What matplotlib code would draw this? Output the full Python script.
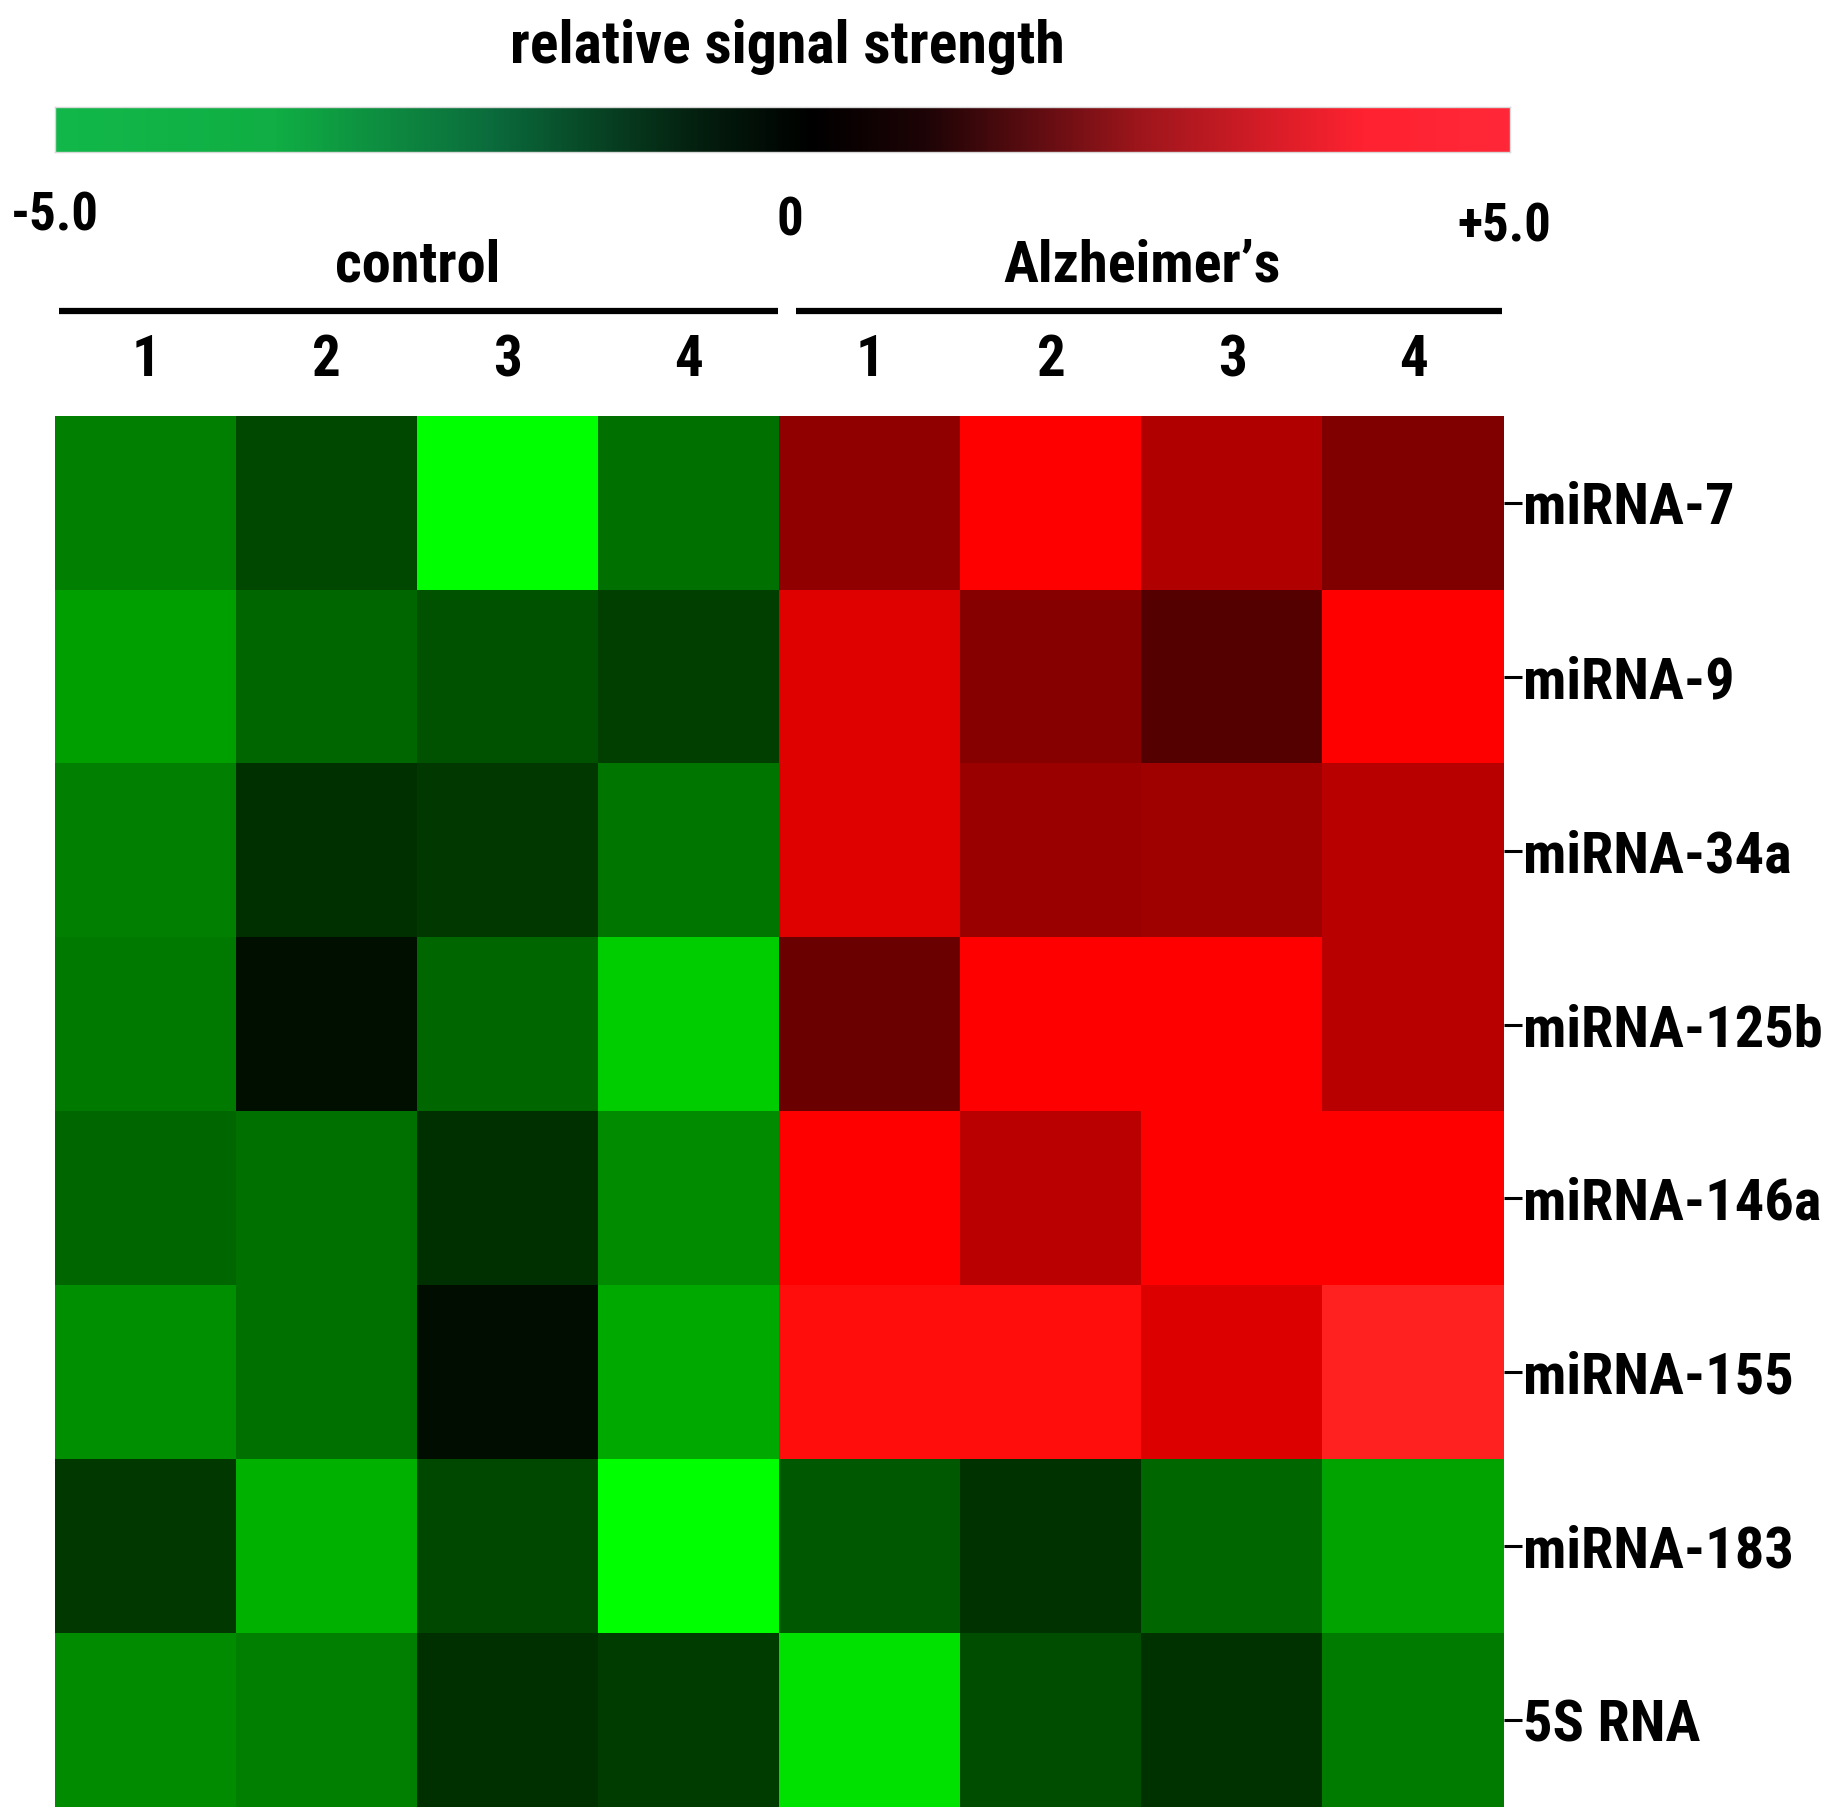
import numpy as np
import matplotlib
matplotlib.use("Agg")
import matplotlib.pyplot as plt
from matplotlib.colors import LinearSegmentedColormap
from matplotlib import transforms

plt.rcParams['font.family'] = ['Roboto Condensed', 'DejaVu Sans']
plt.rcParams['font.weight'] = 'bold'

# datos
mirnas = ['miRNA-7', 'miRNA-9', 'miRNA-34a', 'miRNA-125b',
          'miRNA-146a', 'miRNA-155', 'miRNA-183', '5S RNA']
samples = ['1', '2', '3', '4', '1', '2', '3', '4']
groups = ['control', "Alzheimer\u2019s"]
cbar_labels = ['-5.0', '0', '+5.0']

control = np.array([
    [-2.5, -1.4, -5.0, -2.2],
    [-3.1, -2.0, -1.6, -1.25],
    [-2.5, -0.9, -1.1, -2.3],
    [-2.35, -0.3, -2.0, -4.0],
    [-2.0, -2.2, -0.9, -2.7],
    [-2.8, -2.2, -0.25, -3.3],
    [-1.1, -3.45, -1.4, -5.0],
    [-2.7, -2.5, -0.9, -1.15],
])
alzheimer = np.array([
    [2.7, 4.8, 3.3, 2.4],
    [4.2, 2.5, 1.6, 4.8],
    [4.2, 2.9, 3.0, 3.45],
    [2.0, 4.8, 4.8, 3.45],
    [4.8, 3.5, 4.8, 4.8],
    [4.85, 4.85, 4.15, 5.0],
    [-1.75, -1.0, -2.0, -3.2],
    [-4.4, -1.5, -1.0, -2.4],
])
values = np.hstack([control, alzheimer])

# colormaps: celdas y barra de color
cell_cmap = LinearSegmentedColormap.from_list(
    'gkr', [(0.0, '#00ff00'), (0.5, '#000000'), (0.98, '#ff0000'), (1.0, '#ff2020')])
bar_cmap = LinearSegmentedColormap.from_list(
    'bar', [(0.0, '#12b84a'), (0.15, '#10ae44'), (0.3, '#0b6b3c'), (0.44, '#04200f'),
            (0.52, '#000000'), (0.6, '#1e0406'), (0.75, '#a0161c'), (0.9, '#ff2230'),
            (1.0, '#ff2838')])

W, H = 1828, 1819
fig = plt.figure(figsize=(W / 100, H / 100), dpi=100)

# heatmap
ax = fig.add_axes([55 / W, 1 - 1807 / H, 1449 / W, 1391 / H])
ax.imshow(values, cmap=cell_cmap, vmin=-5, vmax=5, aspect='auto', interpolation='nearest')
for s in ax.spines.values():
    s.set_visible(False)
ax.xaxis.tick_top()
ax.set_xticks(range(len(samples)))
ax.set_xticklabels(samples, fontsize=41)
ax.tick_params(axis='x', length=0, pad=20)
ax.yaxis.tick_right()
ax.set_yticks(range(len(mirnas)))
ax.set_yticklabels(mirnas, fontsize=42)
ax.tick_params(axis='y', length=13, width=2.2, pad=1)

# lineas y nombres de grupo
trans = transforms.blended_transform_factory(ax.transData, ax.transAxes)
ax.plot([-0.48, 3.49], [1.0755, 1.0755], color='black', lw=4.5, transform=trans, clip_on=False,
        solid_capstyle='butt')
ax.plot([3.59, 7.49], [1.0755, 1.0755], color='black', lw=4.5, transform=trans, clip_on=False,
        solid_capstyle='butt')
ax.text(1.5, 1.108, groups[0], transform=trans, ha='center', va='center', fontsize=42)
ax.text(5.5, 1.108, groups[1], transform=trans, ha='center', va='center', fontsize=42)

# barra de color
cax = fig.add_axes([55 / W, 1 - 152 / H, 1455 / W, 45 / H])
grad = np.linspace(-5, 5, 512).reshape(1, -1)
cax.imshow(grad, cmap=bar_cmap, vmin=-5, vmax=5, aspect='auto', extent=[-5, 5, 0, 1])
cax.set_xticks([])
cax.set_yticks([])
for s in cax.spines.values():
    s.set_color('#d8d8d8')
    s.set_linewidth(1)

fig.text(787 / W, 1 - 47 / H, 'relative signal strength', ha='center', va='center', fontsize=43)
fig.text(55 / W, 1 - 216 / H, cbar_labels[0], ha='center', va='center', fontsize=38)
fig.text(790 / W, 1 - 221 / H, cbar_labels[1], ha='center', va='center', fontsize=38)
fig.text(1504 / W, 1 - 227 / H, cbar_labels[2], ha='center', va='center', fontsize=38)

fig.savefig('out.png', dpi=100)
